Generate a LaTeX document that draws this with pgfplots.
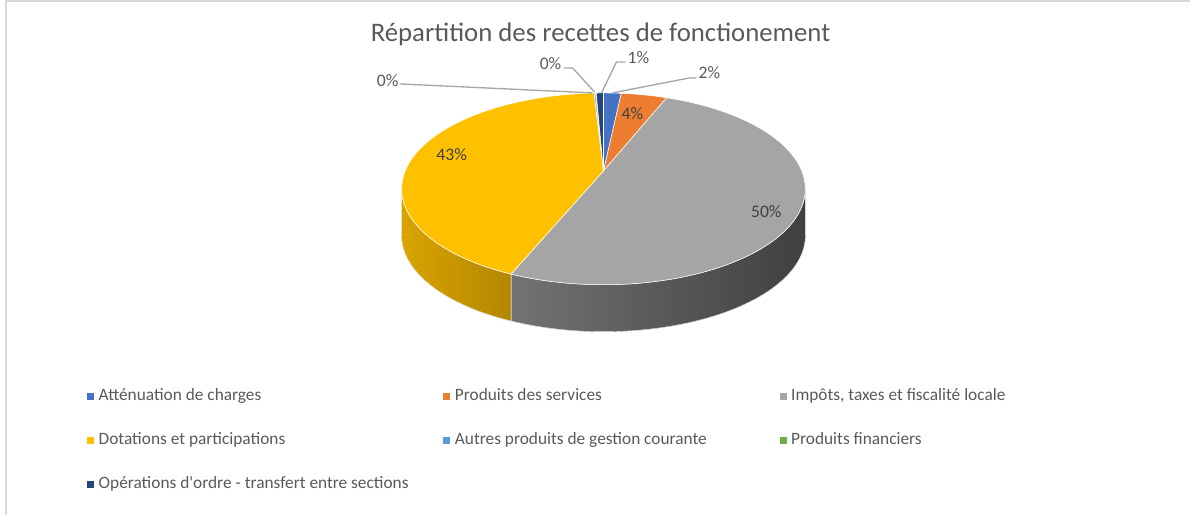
\documentclass[border=0pt]{standalone}
\usepackage{pgfplots}
\pgfplotsset{compat=1.18}
\usepackage{pgfplotstable}
\usepackage{fontspec}
\setmainfont{Carlito}

\definecolor{txt}{HTML}{595959}
\definecolor{lbl}{HTML}{404040}
\definecolor{lead}{HTML}{A6A6A6}
\definecolor{frame}{HTML}{D9D9D9}
\definecolor{c0}{HTML}{4472C4}
\definecolor{c1}{HTML}{ED7D31}
\definecolor{c2}{HTML}{A5A5A5}
\definecolor{c3}{HTML}{FFC000}
\definecolor{c4}{HTML}{5B9BD5}
\definecolor{c5}{HTML}{70AD47}
\definecolor{c6}{HTML}{264478}
% side shading, left and right end
\colorlet{l0}{c0!75!black}\colorlet{r0}{c0!45!black}
\colorlet{l1}{c1!75!black}\colorlet{r1}{c1!45!black}
\definecolor{l2}{HTML}{737373}\definecolor{r2}{HTML}{404040}
\definecolor{l3}{HTML}{D9A400}\definecolor{r3}{HTML}{B38700}
\colorlet{l4}{c4!75!black}\colorlet{r4}{c4!45!black}
\colorlet{l5}{c5!75!black}\colorlet{r5}{c5!45!black}
\colorlet{l6}{c6!75!black}\colorlet{r6}{c6!45!black}

% shares in percent, clockwise from 12 o'clock
\pgfplotstableread{
share
1.7
4.4
50.2
42.8
0.15
0.05
0.7
}\piedata

\begin{document}
\begin{tikzpicture}[
  declare function={
    px(\t)=604+198.4*sin(\t)/(1+0.1875*cos(\t));
    py(\t)=171-92.6*cos(\t)/(1+0.1875*cos(\t));
  }]
\begin{axis}[
  scale only axis,
  width=893.25pt, height=386.25pt,
  xmin=0, xmax=1191, ymin=0, ymax=515,
  y dir=reverse,
  hide axis, clip=false,
  legend columns=3,
  legend cell align=left,
  legend image code/.code={\fill[#1] (0pt,-2.25pt) rectangle (4.5pt,2.25pt); \path (8.25pt,0pt);},
  legend style={draw=none, fill=none, at={(axis cs:83,385.5)}, anchor=north west,
    font=\fontsize{13}{15.6}\selectfont, text=txt,
    nodes={inner sep=0pt, text height=9pt, text depth=3pt}, row sep=21pt},
]
\path (0,0) (1191,515);
\draw[frame, line width=1.5pt] (6.5,515) -- (6.5,1.5) -- (1191,1.5);

% sides
\pgfmathsetmacro\cum{0}
\pgfplotsforeachungrouped \i in {0,...,6}{%
  \pgfplotstablegetelem{\i}{share}\of\piedata
  \pgfmathsetmacro\a{3.6*\cum}
  \pgfmathsetmacro\cum{\cum+\pgfplotsretval}
  \pgfmathsetmacro\b{3.6*\cum}
  \pgfmathsetmacro\sa{max(\a,100.8)}
  \pgfmathsetmacro\sb{min(\b,259.2)}
  \pgfmathtruncatemacro\vis{\sb>\sa}
  \ifnum\vis=1
    \edef\temp{\noexpand\fill[left color=l\i, right color=r\i, draw=white, line width=0.3pt]
      plot[domain=\sa:\sb, samples=60, variable=\noexpand\t] ({px(\noexpand\t)},{py(\noexpand\t)})
      -- plot[domain=\sb:\sa, samples=60, variable=\noexpand\t] ({px(\noexpand\t)},{py(\noexpand\t)+47}) -- cycle;}%
    \temp
  \fi
}
% top face
\pgfmathsetmacro\cum{0}
\pgfplotsforeachungrouped \i in {0,...,6}{%
  \pgfplotstablegetelem{\i}{share}\of\piedata
  \pgfmathsetmacro\a{3.6*\cum}
  \pgfmathsetmacro\cum{\cum+\pgfplotsretval}
  \pgfmathsetmacro\b{3.6*\cum}
  \pgfmathtruncatemacro\ns{max(3,(\b-\a)/2)}
  \edef\temp{\noexpand\fill[c\i, draw=white, line width=0.4pt] (604,171)
    -- plot[domain=\a:\b, samples=\ns, variable=\noexpand\t] ({px(\noexpand\t)},{py(\noexpand\t)}) -- cycle;}%
  \temp
}

% leader lines
\draw[lead, line width=1pt] (593,93) -- (400,84);
\draw[lead, line width=1pt] (595,92) -- (573,68) -- (564,68);
\draw[lead, line width=1pt] (602,93) -- (617,62) -- (626,62);
\draw[lead, line width=1pt] (613,93) -- (690,78) -- (697,78);

\begin{scope}[every node/.style={font=\fontsize{13.2}{16}\selectfont, inner sep=0pt}]
\node[text=txt] at (388,81) {0\%};
\node[text=txt] at (551,64) {0\%};
\node[text=txt] at (639,58) {1\%};
\node[text=txt] at (710,73) {2\%};
\node[text=lbl] at (633,114) {4\%};
\node[text=lbl] at (452,155) {43\%};
\node[text=lbl] at (767,212) {50\%};
\end{scope}

\node[text=txt, font=\fontsize{20.1}{24}\selectfont] at (601,34) {Répartition des recettes de fonctionement};

\addlegendimage{c0}\addlegendentry{\makebox[258.75pt][l]{Atténuation de charges}}
\addlegendimage{c1}\addlegendentry{\makebox[243.75pt][l]{Produits des services}}
\addlegendimage{c2}\addlegendentry{Impôts, taxes et fiscalité locale}
\addlegendimage{c3}\addlegendentry{\makebox[258.75pt][l]{Dotations et participations}}
\addlegendimage{c4}\addlegendentry{\makebox[243.75pt][l]{Autres produits de gestion courante}}
\addlegendimage{c5}\addlegendentry{Produits financiers}
\addlegendimage{c6}\addlegendentry{\makebox[258.75pt][l]{Opérations d\textquotesingle ordre - transfert entre sections}}
\end{axis}
\end{tikzpicture}
\end{document}
